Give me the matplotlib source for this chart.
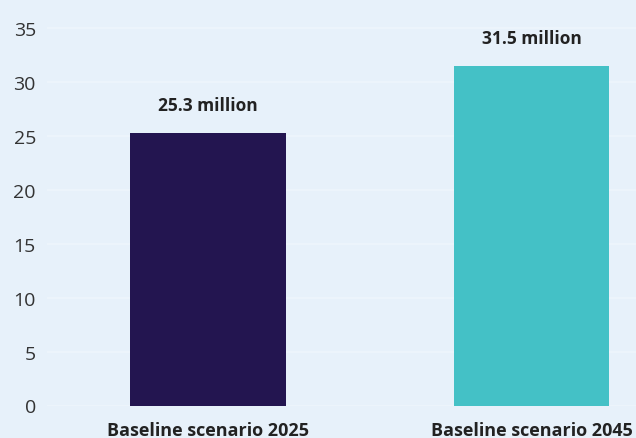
import matplotlib.pyplot as plt

scenarios = ['Baseline scenario 2025', 'Baseline scenario 2045']
values = [25.3, 31.5]
value_labels = ['25.3 million', '31.5 million']
bar_colors = ['#231550', '#44C1C6']

bg = '#E7F1FA'
plt.rcParams['font.family'] = ['Open Sans', 'DejaVu Sans']

fig = plt.figure(figsize=(6.36, 4.39), dpi=100, facecolor=bg)
# 35 sits at y=29px, 0 at y=406.5px
ax = fig.add_axes([47 / 636, 1 - 406.5 / 439, 1 - 47 / 636, 399 / 439])
ax.set_facecolor(bg)

x = range(len(values))
bars = ax.bar(x, values, width=0.482, color=bar_colors, zorder=3)

for b, lab in zip(bars, value_labels):
    ax.annotate(lab, (b.get_x() + b.get_width() / 2, b.get_height()),
                xytext=(0, 13.5), textcoords='offset points',
                ha='center', va='bottom', fontsize=12.5, fontweight='bold',
                color='#222222')

ax.set_xlim(-0.498, 1.323)
ax.set_ylim(0, 399 / (377.5 / 35))
ax.set_yticks(range(0, 36, 5))
ax.set_xticks(list(x))
ax.set_xticklabels(scenarios, fontsize=13, fontweight='bold', color='#222222')
ax.tick_params(axis='y', length=0, pad=8, labelsize=14, labelcolor='#333333')
ax.tick_params(axis='x', length=0, pad=11)

ax.grid(axis='y', color='#EEF5FC', linewidth=1.2, zorder=0)
for s in ax.spines.values():
    s.set_visible(False)

fig.savefig('out.png', dpi=100, facecolor=bg)
